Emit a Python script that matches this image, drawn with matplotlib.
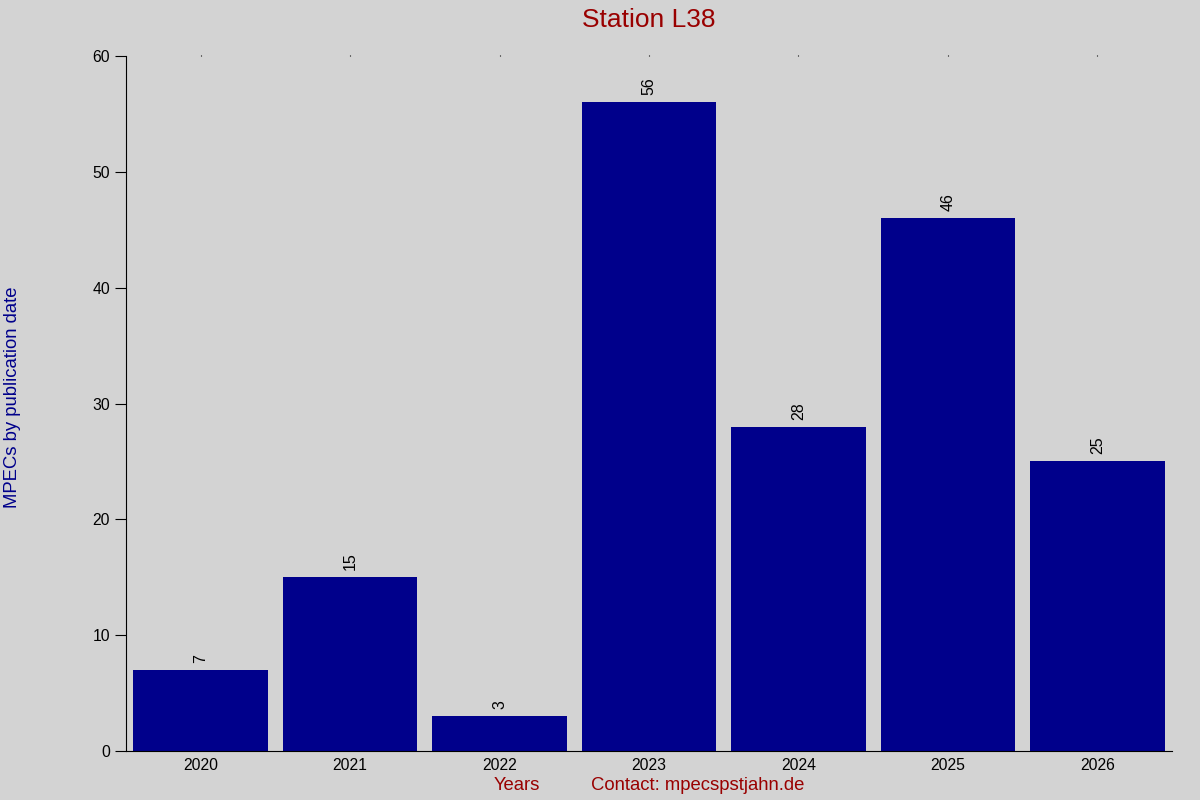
import matplotlib.pyplot as plt

plt.rcParams['font.family'] = ['Liberation Sans', 'DejaVu Sans']

years = [2020, 2021, 2022, 2023, 2024, 2025, 2026]
mpecs = [7, 15, 3, 56, 28, 46, 25]
title = 'Station L38'

bg = '#d3d3d3'
fig = plt.figure(figsize=(12, 8), dpi=100, facecolor=bg)
ax = fig.add_axes([0.105, 0.06125, 0.8717, 0.86875])
ax.set_facecolor(bg)

bars = ax.bar(years, mpecs, width=0.9, color='#00008B')
for b, v in zip(bars, mpecs):
    ax.annotate(str(v), (b.get_x() + b.get_width() / 2, v), xytext=(0, 5),
                textcoords='offset points', rotation=90, ha='center', va='bottom',
                fontsize=11.5)

ax.set_xlim(2019.5, 2026.5)
ax.set_ylim(0, 60)
ax.set_xticks(years)
ax.set_yticks(range(0, 61, 10))

ax.spines['top'].set_visible(False)
ax.spines['right'].set_visible(False)
ax.tick_params(axis='y', direction='out', length=8, labelsize=11.3)
ax.tick_params(axis='x', bottom=False, top=True, length=1, width=0.8, labelsize=11.3, pad=4)

fig.text(0.5408, 0.975, title, ha='center', va='center', fontsize=19, color='#990000')
fig.text(0.0105, 0.503, 'MPECs by publication date', rotation=90, ha='center', va='center',
         fontsize=13.3, color='#00008B')
fig.text(0.431, 0.018, 'Years', ha='center', va='center', fontsize=13.3, color='#990000')
fig.text(0.5817, 0.018, 'Contact: mpecspstjahn.de', ha='center', va='center',
         fontsize=13.3, color='#990000')

fig.savefig('out.png', dpi=100, facecolor=bg)
